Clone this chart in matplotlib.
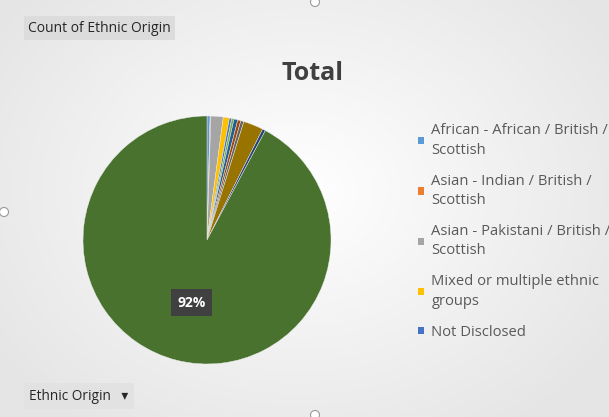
import numpy as np
import matplotlib.pyplot as plt
from matplotlib.patches import Patch, Ellipse

plt.rcParams['font.family'] = ['Open Sans', 'DejaVu Sans']

# Ethnic origin categories (pivot order) and their share of the total (%)
categories = [
    "African - African / British / Scottish",
    "Asian - Indian / British / Scottish",
    "Asian - Pakistani / British / Scottish",
    "Mixed or multiple ethnic groups",
    "Not Disclosed",
    "Other ethnic group",
    "White - Gypsy / Traveller",
    "White - Irish",
    "White - Other",
    "White - Other British",
    "White - Polish",
    "White - Scottish",
]
shares = [0.4, 0.1, 1.6, 0.8, 0.3, 0.3, 0.5, 0.4, 0.4, 2.6, 0.4, 92.2]
colors = ["#5B9BD5", "#ED7D31", "#A5A5A5", "#FFC000", "#4472C4", "#70AD47",
          "#255E91", "#9E480E", "#636363", "#997300", "#264478", "#48722D"]
legend_labels = [
    "African - African / British /\nScottish",
    "Asian - Indian / British /\nScottish",
    "Asian - Pakistani / British /\nScottish",
    "Mixed or multiple ethnic\ngroups",
    "Not Disclosed",
]

W, H = 609, 417
fig = plt.figure(figsize=(W / 100, H / 100), dpi=100)
fig.patch.set_facecolor("#EDEDED")

# soft radial background like the Excel chart style
yy, xx = np.mgrid[0:H, 0:W]
r = np.sqrt(((xx - 300) / 330.0) ** 2 + ((yy - 190) / 260.0) ** 2)
shade = np.clip(1.0 - 0.09 * r, 0.9, 1.0)
fig.figimage(np.dstack([shade, shade, shade]), 0, 0, zorder=-5)

# pie: centre (207, 240) px, radius 124 px
ax = fig.add_axes([83 / W, 1 - 364 / H, 248 / W, 248 / H])
ax.set_zorder(2)
ax.patch.set_alpha(0)
ax.pie(shares, colors=colors, startangle=90, counterclock=False,
       radius=1.0, wedgeprops=dict(linewidth=0.3, edgecolor="#EDEDED"))
ax.set_aspect("equal")
ax.set_xlim(-1, 1)
ax.set_ylim(-1, 1)
ax.axis("off")

# data label for the largest slice, placed along its bisector
big = int(np.argmax(shares))
start = 90 - 360 * sum(shares[:big]) / 100
mid = np.deg2rad(start - 360 * shares[big] / 100 / 2)
ax.text(0.52 * np.cos(mid), 0.52 * np.sin(mid), f"{shares[big]:.0f}%",
        ha="center", va="center", color="white", fontsize=10, fontweight="bold",
        zorder=5,
        bbox=dict(boxstyle="square,pad=0.45", facecolor="#404040", edgecolor="none"))

fig.text(313 / W, 1 - 73 / H, "Total", ha="center", va="center",
         fontsize=18, fontweight="bold", color="#404040")

handles = [Patch(facecolor=colors[i], edgecolor="none") for i in range(len(legend_labels))]
leg = fig.legend(handles, legend_labels, loc="upper left",
                 bbox_to_anchor=(411 / W, 1 - 116 / H), frameon=False,
                 fontsize=10.6, labelcolor="#595959", handlelength=0.38, handleheight=0.38,
                 handletextpad=0.5, labelspacing=1.08, borderpad=0)
for t in leg.get_texts():
    t.set_linespacing(1.4)

# pivot field buttons
fig.text(28 / W, 1 - 28 / H, "Count of Ethnic Origin", ha="left", va="center",
         fontsize=10, color="#262626",
         bbox=dict(boxstyle="square,pad=0.3", facecolor="#DCDCDC", edgecolor="none"))
fig.text(29 / W, 1 - 396 / H, "Ethnic Origin   \u25BE", ha="left", va="center",
         fontsize=9.8, color="#262626",
         bbox=dict(boxstyle="square,pad=0.4", facecolor="#E2E2E2", edgecolor="none"))

# chart selection handles on the frame edges
for cx, cy in [(315, 2), (4, 212), (315, 415)]:
    fig.patches.append(Ellipse((cx / W, 1 - cy / H), 9 / W, 9 / H,
                               transform=fig.transFigure, facecolor="white",
                               edgecolor="#9A9A9A", linewidth=0.8))

fig.savefig("out.png", dpi=100, facecolor=fig.get_facecolor())
plt.close(fig)
